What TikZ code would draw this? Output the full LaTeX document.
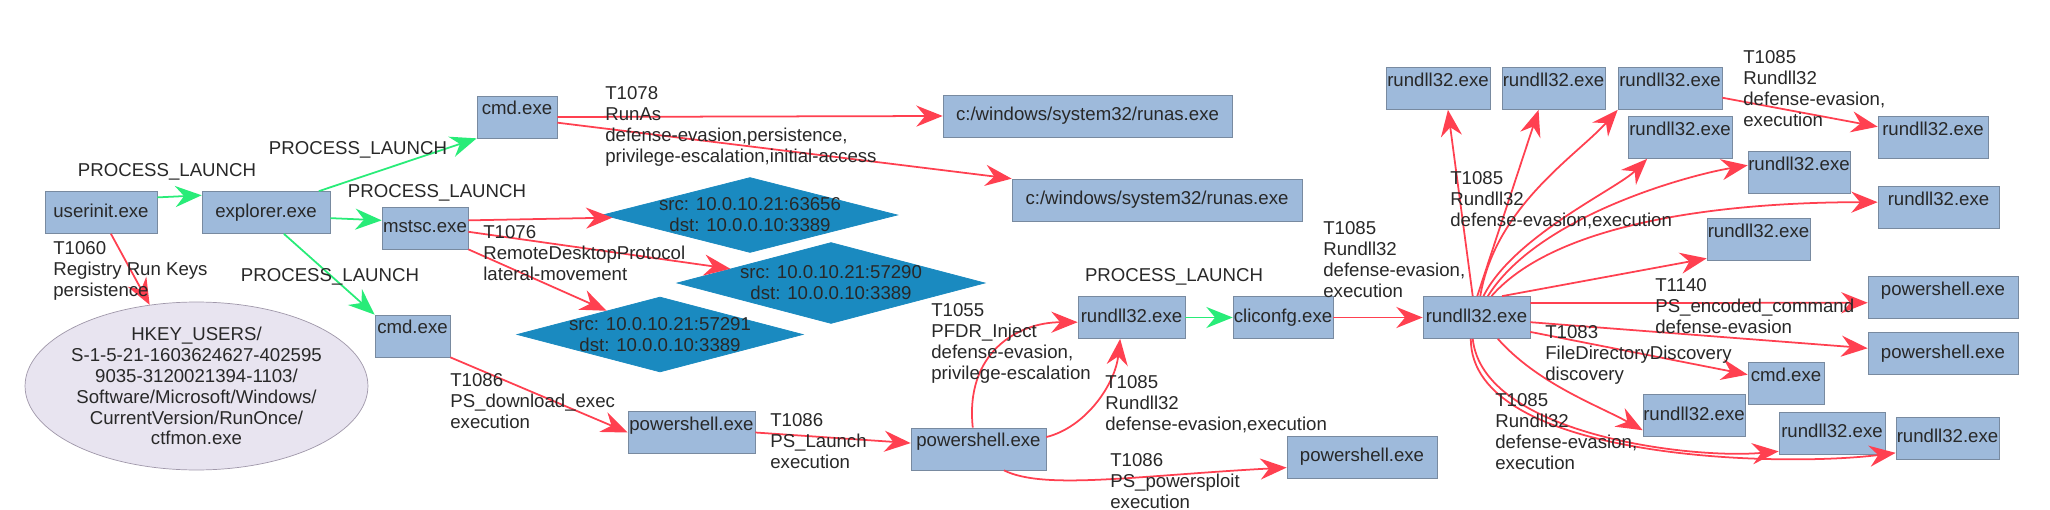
\documentclass[tikz,border=0pt]{standalone}
\usepackage{fontspec}
\setmainfont{Liberation Sans}
\usetikzlibrary{arrows.meta,shapes.geometric}

\definecolor{boxfill}{RGB}{158,186,219}
\definecolor{boxline}{RGB}{120,138,160}
\definecolor{dipfill}{RGB}{26,138,192}
\definecolor{keyfill}{RGB}{232,228,240}
\definecolor{keyline}{RGB}{160,152,170}
\definecolor{techred}{RGB}{255,64,80}
\definecolor{launchgreen}{RGB}{40,236,120}
\definecolor{inktext}{RGB}{40,40,40}

\begin{document}
\begin{tikzpicture}[x=0.02cm, y=-0.02cm,
    font=\fontsize{10.6}{11.9}\selectfont, text=inktext,
    proc/.style={draw=boxline, fill=boxfill, rectangle, minimum height=0.84cm,
      inner xsep=0pt, inner ysep=0pt, text height=7.6pt, text depth=2pt},
    procup/.style={proc, text height=8pt, text depth=10.6pt, inner ysep=2.6pt},
    dip/.style={diamond, draw=dipfill, fill=dipfill, inner sep=0pt},
    diptext/.style={align=center, inner sep=0pt},
    regkey/.style={ellipse, draw=keyline, fill=keyfill, inner sep=0pt,
      minimum width=6.86cm, minimum height=3.36cm},
    tlabel/.style={align=left, anchor=north west, inner sep=0pt},
    plabel/.style={inner sep=0pt},
    launch/.style={draw=launchgreen, line width=1pt,
      -{Stealth[length=15pt, width=12pt, inset=5pt]}},
    tech/.style={draw=techred, line width=1pt,
      -{Stealth[length=15pt, width=12pt, inset=5pt]}}]

  \fill [white] (0, 0) rectangle (2050, 510);
  \useasboundingbox (0, 0) rectangle (2050, 510);

  % Logon chain
  \node [proc, minimum width=2.24cm] (userinit) at (101, 212.5) {userinit.exe};
  \node [proc, minimum width=2.56cm] (explorer) at (266, 212.5) {explorer.exe};
  \node [procup, minimum width=1.6cm] (cmdA) at (517, 117) {cmd.exe};
  \node [proc, minimum width=1.72cm] (mstsc) at (425, 228) {mstsc.exe};
  \node [procup, minimum width=1.5cm] (cmdB) at (412.5, 336) {cmd.exe};

  % Run key
  \node [regkey, label={[diptext]center:{HKEY\_USERS/\\
      S-1-5-21-1603624627-402595\\9035-3120021394-1103/\\
      Software/Microsoft/Windows/\\CurrentVersion/RunOnce/\\ctfmon.exe}}]
    (hkey) at (196.5, 386) {};

  % RunAs targets
  \node [proc, minimum width=5.78cm] (runasA) at (1087.5, 116)
    {c:/windows/system32/runas.exe};
  \node [proc, minimum width=5.8cm] (runasB) at (1157, 200)
    {c:/windows/system32/runas.exe};

  % RDP connections
  \node [dip, minimum width=5.9cm, minimum height=1.5cm,
    label={[diptext]center:{src: 10.0.10.21:63656\\dst: 10.0.0.10:3389}}]
    (dipA) at (750, 215) {};
  \node [dip, minimum width=6.16cm, minimum height=1.62cm,
    label={[diptext]center:{src: 10.0.10.21:57290\\dst: 10.0.0.10:3389}}]
    (dipB) at (831, 283) {};
  \node [dip, minimum width=5.72cm, minimum height=1.5cm,
    label={[diptext]center:{src: 10.0.10.21:57291\\dst: 10.0.0.10:3389}}]
    (dipC) at (660, 334.5) {};

  % PowerShell chain
  \node [procup, minimum width=2.54cm] (psA) at (691.5, 432.5) {powershell.exe};
  \node [procup, minimum width=2.7cm] (psB) at (978.5, 449) {powershell.exe};
  \node [proc, minimum width=3cm] (psC) at (1362, 457) {powershell.exe};
  \node [proc, minimum width=2.14cm] (rdllM) at (1131.5, 317.5) {rundll32.exe};
  \node [proc, minimum width=2cm] (clicfg) at (1283, 317.5) {cliconfg.exe};

  % Rundll32 hub
  \node [proc, minimum width=2.14cm] (hub) at (1476.5, 317.5) {rundll32.exe};
  \node [procup, minimum width=2.08cm] (rA) at (1438, 88.5) {rundll32.exe};
  \node [procup, minimum width=2.06cm] (rB) at (1553.5, 88.5) {rundll32.exe};
  \node [procup, minimum width=2.08cm] (rC) at (1670, 88.5) {rundll32.exe};
  \node [procup, minimum width=2.08cm] (rD) at (1680, 137.5) {rundll32.exe};
  \node [procup, minimum width=2.2cm] (rE) at (1933, 137.5) {rundll32.exe};
  \node [procup, minimum width=2.04cm] (rF) at (1799, 172.5) {rundll32.exe};
  \node [procup, minimum width=2.42cm] (rG) at (1938.5, 207.5) {rundll32.exe};
  \node [procup, minimum width=2.06cm] (rH) at (1758.5, 239.5) {rundll32.exe};
  \node [procup, minimum width=3cm] (psD) at (1943, 297.5) {powershell.exe};
  \node [proc, minimum width=3cm] (psE) at (1943, 353.5) {powershell.exe};
  \node [procup, minimum width=1.52cm] (cmdC) at (1786, 383.5) {cmd.exe};
  \node [proc, minimum width=2.04cm] (rI) at (1694, 415.5) {rundll32.exe};
  \node [proc, minimum width=2.12cm] (rJ) at (1832, 433) {rundll32.exe};
  \node [proc, minimum width=2.06cm] (rK) at (1947.5, 438) {rundll32.exe};

  % Process launches
  \draw [launch] (userinit.15) -- (explorer.165);
  \draw [launch] (explorer.22) -- (cmdA.south west);
  \draw [launch] (explorer.-5) -- (mstsc.170);
  \draw [launch] (explorer.-50) -- (cmdB.north west);
  \draw [launch] (rdllM.east) -- (clicfg.west);
  \node [plabel] (plA) at (167, 172) {PROCESS\_LAUNCH};
  \node [plabel] (plB) at (358, 150) {PROCESS\_LAUNCH};
  \node [plabel] (plC) at (437, 193) {PROCESS\_LAUNCH};
  \node [plabel] (plD) at (330, 277) {PROCESS\_LAUNCH};
  \node [plabel] (plE) at (1174, 277) {PROCESS\_LAUNCH};

  % Techniques, left half
  \draw [tech] (userinit.-65) -- (hkey.120);
  \draw [tech] (cmdA.east) -- (runasA.west);
  \draw [tech] (cmdA.-8) -- (runasB.north west);
  \draw [tech] (mstsc.10) -- (dipA);
  \draw [tech] (mstsc.-5) -- (dipB);
  \draw [tech] (mstsc.south east) -- (dipC);
  \draw [tech] (cmdB.south east) -- (psA.west);
  \draw [tech] (psA.east) -- (psB.175);
  \draw [tech] (psB.105) .. controls +(-8, -75) and +(-60, 0) .. (rdllM.185);
  \draw [tech] (psB.10) .. controls +(40, -10) and +(-5, 45) .. (rdllM.-118);
  \draw [tech] (psB.-40) .. controls +(40, 20) and +(-150, 8) .. (psC.188);
  \draw [tech] (clicfg.east) -- (hub.west);

  % Techniques, hub
  \draw [tech] (hub.100) -- (rA.-65);
  \draw [tech] (hub.88) -- (rB.-125);
  \draw [tech] (hub.80) .. controls +(15, -90) and +(-40, 45) .. (rC.south west);
  \draw [tech] (hub.72) .. controls +(30, -60) and +(-30, 30) .. (rD.-147);
  \draw [tech] (hub.62) .. controls +(50, -80) and +(-60, 10) .. (rF.172);
  \draw [tech] (hub.55) .. controls +(70, -80) and +(-130, 0) .. (rG.175);
  \draw [tech] (hub.40) -- (rH.200);
  \draw [tech] (hub.15) -- (psD.184);
  \draw [tech] (hub.-5) -- (psE.176);
  \draw [tech] (hub.-15) -- (cmdC.167);
  \draw [tech] (hub.-45) .. controls +(40, 45) and +(-45, -25) .. (rI.196);
  \draw [tech] (hub.-100) .. controls +(10, 95) and +(-90, 8) .. (rJ.199);
  \draw [tech] (hub.-105) .. controls +(0, 120) and +(-120, 15) .. (rK.196);
  \draw [tech] (rC.-10) -- (rE.169);

  % Technique labels
  \node [tlabel] (lblRegKey) at (53, 241) {T1060\\Registry Run Keys\\persistence};
  \node [tlabel] (lblRunAs) at (605, 86) {T1078\\RunAs\\
    defense-evasion,persistence,\\privilege-escalation,initial-access};
  \node [tlabel] (lblRdp) at (483, 225)
    {T1076\\RemoteDesktopProtocol\\lateral-movement};
  \node [tlabel] (lblDownload) at (450, 373)
    {T1086\\PS\_download\_exec\\execution};
  \node [tlabel] (lblLaunch) at (770, 413) {T1086\\PS\_Launch\\execution};
  \node [tlabel] (lblInject) at (931, 303)
    {T1055\\PFDR\_Inject\\defense-evasion,\\privilege-escalation};
  \node [tlabel] (lblRundllA) at (1105, 375)
    {T1085\\Rundll32\\defense-evasion,execution};
  \node [tlabel] (lblSploit) at (1110, 453)
    {T1086\\PS\_powersploit\\execution};
  \node [tlabel] (lblRundllB) at (1323, 221)
    {T1085\\Rundll32\\defense-evasion,\\execution};
  \node [tlabel] (lblRundllC) at (1450, 171)
    {T1085\\Rundll32\\defense-evasion,execution};
  \node [tlabel] (lblRundllD) at (1743, 50)
    {T1085\\Rundll32\\defense-evasion,\\execution};
  \node [tlabel] (lblEncoded) at (1655, 278)
    {T1140\\PS\_encoded\_command\\defense-evasion};
  \node [tlabel] (lblDiscovery) at (1545, 325)
    {T1083\\FileDirectoryDiscovery\\discovery};
  \node [tlabel] (lblRundllE) at (1495, 393)
    {T1085\\Rundll32\\defense-evasion,\\execution};
\end{tikzpicture}
\end{document}
